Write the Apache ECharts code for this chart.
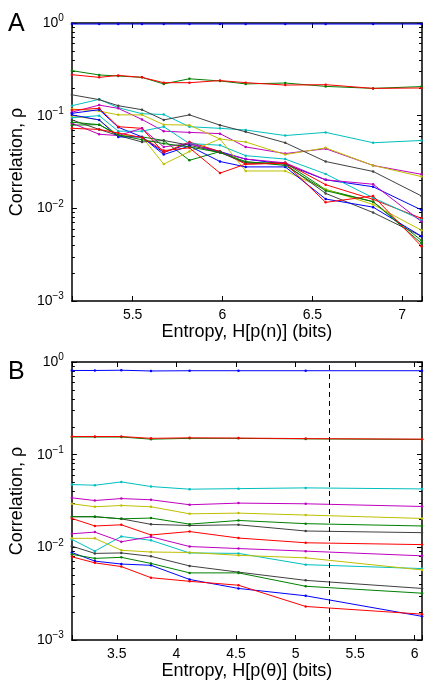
<!DOCTYPE html>
<html><head><meta charset="utf-8">
<script src="https://cdn.jsdelivr.net/npm/echarts@6/dist/echarts.min.js"></script>
<style>html,body{margin:0;padding:0;background:#fff}#c{width:425px;height:681px}</style>
</head><body><div id="c"></div><script>
// ---------- DATA ----------
const entropyA = [5.162, 5.314, 5.42, 5.552, 5.673, 5.816, 5.986, 6.129, 6.349, 6.574, 6.838, 7.107];
const entropyB = [3.123, 3.316, 3.538, 3.787, 4.111, 4.521, 5.085, 6.061];
const yTickExponents = [0, -1, -2, -3];
const dashedB = 5.28;

const A_blue1   = [0.975,0.975,0.975,0.975,0.975,0.975,0.975,0.975,0.975,0.975,0.975,0.975];
const A_green1  = [0.306,0.275,0.268,0.259,0.220,0.250,0.237,0.220,0.225,0.207,0.197,0.206];
const A_red1    = [0.277,0.259,0.272,0.259,0.227,0.227,0.239,0.227,0.214,0.216,0.197,0.199];
const A_cyan1   = [0.128,0.150,0.122,0.105,0.103,0.076,0.073,0.070,0.061,0.066,0.051,0.054];
const A_magenta1= [0.109,0.130,0.120,0.091,0.068,0.066,0.064,0.046,0.039,0.044,0.029,0.0233];
const A_yellow1 = [0.118,0.112,0.102,0.102,0.080,0.079,0.056,0.052,0.038,0.045,0.029,0.022];
const A_gray1   = [0.168,0.149,0.128,0.116,0.090,0.102,0.079,0.067,0.051,0.032,0.025,0.0136];
const A_blue2   = [0.106,0.116,0.075,0.059,0.040,0.050,0.041,0.034,0.030,0.0203,0.0171,0.0096];
const A_green2  = [0.079,0.080,0.061,0.059,0.054,0.033,0.041,0.031,0.031,0.0159,0.0118,0.0045];
const A_red2    = [0.115,0.120,0.076,0.073,0.040,0.052,0.041,0.030,0.031,0.018,0.0125,0.0078];
const A_cyan2   = [0.095,0.100,0.068,0.068,0.076,0.050,0.048,0.037,0.034,0.0235,0.013,0.0075];
const A_magenta2= [0.083,0.063,0.061,0.073,0.046,0.050,0.040,0.034,0.031,0.0203,0.0182,0.0072];
const A_yellow2 = [0.100,0.090,0.061,0.059,0.030,0.041,0.056,0.0253,0.0253,0.016,0.011,0.0058];
const A_gray2   = [0.090,0.071,0.061,0.052,0.054,0.048,0.040,0.031,0.030,0.0145,0.0090,0.0050];
const A_blue3   = [0.102,0.090,0.059,0.059,0.038,0.047,0.032,0.028,0.028,0.0126,0.0103,0.0050];
const A_green3  = [0.085,0.080,0.062,0.055,0.050,0.046,0.040,0.032,0.029,0.0155,0.0118,0.0042];
const A_red3    = [0.073,0.071,0.065,0.058,0.042,0.045,0.024,0.030,0.0306,0.0116,0.0136,0.0039];

const B_blue1   = [0.81,0.81,0.815,0.80,0.805,0.805,0.805,0.805];
const B_green1  = [0.155,0.155,0.155,0.147,0.150,0.150,0.148,0.146];
const B_red1    = [0.157,0.157,0.157,0.150,0.152,0.151,0.149,0.147];
const B_cyan1   = [0.0476,0.0468,0.0508,0.0453,0.0424,0.043,0.0438,0.0427];
const B_magenta1= [0.0342,0.0320,0.0336,0.0326,0.0288,0.0300,0.0295,0.0276];
const B_yellow1 = [0.0295,0.0274,0.0283,0.0274,0.0230,0.0234,0.0223,0.0205];
const B_gray1   = [0.0214,0.0214,0.0203,0.0177,0.0172,0.0175,0.0150,0.0144];
const B_green2  = [0.0214,0.0214,0.0203,0.0207,0.0178,0.0195,0.0180,0.0170];
const B_red2    = [0.0205,0.0170,0.0175,0.0136,0.0148,0.0126,0.0112,0.0107];
const B_magenta2= [0.0140,0.0146,0.0115,0.0130,0.0102,0.0097,0.0091,0.0081];
const B_cyan2   = [0.0122,0.0091,0.0131,0.0119,0.0087,0.0086,0.0065,0.0059];
const B_yellow2 = [0.0125,0.0125,0.0093,0.0089,0.0088,0.0082,0.0077,0.0057];
const B_gray2   = [0.0103,0.0086,0.0087,0.0080,0.0063,0.0054,0.0044,0.0036];
const B_green3  = [0.0084,0.0076,0.0078,0.0067,0.0053,0.0053,0.0038,0.0032];
const B_blue2   = [0.0088,0.0071,0.0066,0.0064,0.0045,0.0036,0.0030,0.0018];
const B_red3    = [0.0079,0.0068,0.0062,0.0047,0.0043,0.0039,0.0023,0.0019];

// ---------- STYLE ----------
const C = {b:'#0000ff', g:'#008000', r:'#ff0000', c:'#00bfbf', m:'#bf00bf', y:'#bfbf00', k:'#404040'};
const FONT = 'Liberation Sans, Arial, Helvetica, sans-serif';

const linesA = [
  [A_blue1,C.b],[A_green1,C.g],[A_red1,C.r],
  [A_cyan1,C.c],[A_magenta1,C.m],[A_yellow1,C.y],[A_gray1,C.k],
  [A_blue2,C.b],[A_green2,C.g],[A_red2,C.r],
  [A_cyan2,C.c],[A_magenta2,C.m],[A_yellow2,C.y],[A_gray2,C.k],
  [A_blue3,C.b],[A_green3,C.g],[A_red3,C.r]
];
const linesB = [
  [B_blue1,C.b],[B_green1,C.g],[B_red1,C.r],
  [B_cyan1,C.c],[B_magenta1,C.m],[B_yellow1,C.y],[B_gray1,C.k],
  [B_green2,C.g],[B_red2,C.r],
  [B_cyan2,C.c],[B_magenta2,C.m],[B_yellow2,C.y],[B_gray2,C.k],
  [B_blue2,C.b],[B_green3,C.g],[B_red3,C.r]
];

const AX = '#000';
function yAxis(grid, pos, withLabel){
  return {
    type:'log', logBase:10, gridIndex:grid, min:0.001, max:1, position:pos,
    axisLine:{show:true, lineStyle:{color:AX, width:1.5}},
    axisTick:{show:true, inside:true, length:5, lineStyle:{color:AX, width:1}},
    minorTick:{show:true, splitNumber:9, length:3, lineStyle:{color:AX, width:1}},
    splitLine:{show:false}, minorSplitLine:{show:false},
    axisLabel:{show:withLabel, margin:8,
      formatter:function(v){ const e=Math.round(Math.log10(v)); return '{b|10}{s|'+(e<0?'\u2212'+(-e):e)+'}'; },
      rich:{b:{fontSize:14, fontFamily:FONT, color:'#000'}, s:{fontSize:10, fontFamily:FONT, color:'#000', padding:[0,0,9,0]}}
    },
    name: withLabel ? 'Correlation, \u03c1' : '', nameLocation:'middle', nameGap:42,
    nameTextStyle:{fontSize:18, fontFamily:FONT, color:'#000'}
  };
}
function xAxis(grid, min, max, pos, withLabel, name){
  return {
    type:'value', gridIndex:grid, min:min, max:max, position:pos,
    splitNumber:5, minInterval:0.5, maxInterval:0.5,
    axisLine:{show:true, onZero:false, lineStyle:{color:AX, width:1.5}},
    axisTick:{show:true, inside:true, length:5, lineStyle:{color:AX, width:1}},
    splitLine:{show:false},
    axisLabel:{show:withLabel, margin:7, fontSize:14, fontFamily:FONT, color:'#000',
      formatter:function(v){ return Math.abs(v*2-Math.round(v*2))<1e-6 ? String(v) : ''; }},
    name: withLabel ? name : '', nameLocation:'middle', nameGap:21,
    nameTextStyle:{fontSize:18, fontFamily:FONT, color:'#000'}
  };
}

const series = [];
linesA.forEach(function(l){
  series.push({type:'line', xAxisIndex:0, yAxisIndex:0, data:entropyA.map(function(x,i){return [x,l[0][i]];}),
    lineStyle:{color:l[1], width:1}, itemStyle:{color:l[1]}, symbol:'circle', symbolSize:2.5, showSymbol:true, animation:false});
});
linesB.forEach(function(l, idx){
  const s = {type:'line', xAxisIndex:2, yAxisIndex:2, data:entropyB.map(function(x,i){return [x,l[0][i]];}),
    lineStyle:{color:l[1], width:1}, itemStyle:{color:l[1]}, symbol:'circle', symbolSize:2.5, showSymbol:true, animation:false};
  if (idx===0) s.markLine = {silent:true, symbol:'none', label:{show:false}, animation:false,
    lineStyle:{color:'#000', type:[5,4], width:1}, data:[{xAxis:dashedB}]};
  series.push(s);
});

const chart = echarts.init(document.getElementById('c'), null, {renderer:'canvas'});
chart.setOption({
  backgroundColor:'#fff',
  animation:false,
  grid:[
    {left:70, right:1, top:23, height:278},
    {left:70, right:1, top:362, height:278}
  ],
  xAxis:[
    xAxis(0, entropyA[0], 7.11, 'bottom', true, 'Entropy, H[p(n)] (bits)'),
    xAxis(0, entropyA[0], 7.11, 'top', false, ''),
    xAxis(1, entropyB[0], entropyB[entropyB.length-1], 'bottom', true, 'Entropy, H[p(\u03b8)] (bits)'),
    xAxis(1, entropyB[0], entropyB[entropyB.length-1], 'top', false, '')
  ],
  yAxis:[ yAxis(0,'left',true), yAxis(0,'right',false), yAxis(1,'left',true), yAxis(1,'right',false) ],
  graphic:[
    {type:'text', left:8, top:12, style:{text:'A', fontSize:25, fontFamily:FONT, fill:'#000'}},
    {type:'text', left:8, top:360, style:{text:'B', fontSize:25, fontFamily:FONT, fill:'#000'}}
  ],
  series:series
});
</script></body></html>
